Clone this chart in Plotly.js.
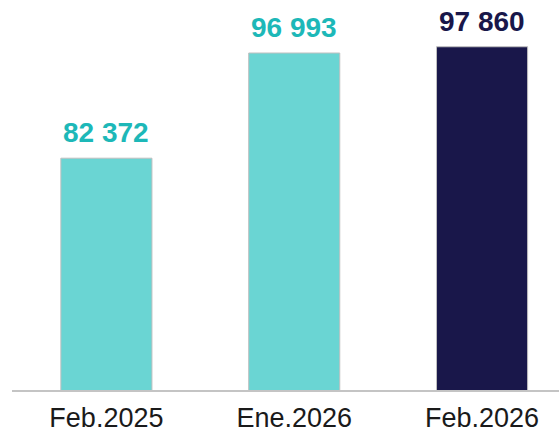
<!DOCTYPE html>
<html>
<head>
<meta charset="utf-8">
<script src="https://cdn.plot.ly/plotly-3.0.1.min.js"></script>
<style>html,body{margin:0;padding:0;background:#fff;}#chart{width:559px;height:435px;}</style>
</head>
<body>
<div id="chart"></div>
<script>
var categories = ["Feb.2025", "Ene.2026", "Feb.2026"];
var values = [82372, 96993, 97860];
var barColors = ["#6ad5d3", "#6ad5d3", "#19174a"];
var labelColors = ["#1db8b8", "#1db8b8", "#19174a"];

function fmt(v) {
  return String(v).replace(/\B(?=(\d{3})+(?!\d))/g, " ");
}

var trace = {
  type: "bar",
  x: categories,
  y: values,
  width: 0.485,
  marker: { color: barColors, line: { color: "#bfbfbf", width: 1 } },
  hoverinfo: "none"
};

var annotations = categories.map(function (c, i) {
  return {
    x: c, y: values[i], xref: "x", yref: "y",
    text: "<b>" + fmt(values[i]) + "</b>",
    showarrow: false, yanchor: "bottom", yshift: 8,
    font: { family: "Liberation Sans, Arial, sans-serif", size: 28, color: labelColors[i] }
  };
});

var layout = {
  width: 559, height: 435,
  margin: { l: 12, r: 0, t: 0, b: 45, pad: 0 },
  paper_bgcolor: "#fff", plot_bgcolor: "#fff",
  showlegend: false,
  xaxis: {
    range: [-0.5026, 2.4096],
    showline: true, linecolor: "#c4c4c4", linewidth: 1.5,
    showgrid: false, zeroline: false, ticks: "",
    ticklabelstandoff: 3,
    tickfont: { family: "Liberation Sans, Arial, sans-serif", size: 27, color: "#1a1a1a" },
    fixedrange: true
  },
  yaxis: {
    range: [50150, 104360],
    visible: false, showgrid: false, zeroline: false, fixedrange: true
  },
  annotations: annotations
};

Plotly.newPlot("chart", [trace], layout, { displayModeBar: false, staticPlot: true });
</script>
</body>
</html>
